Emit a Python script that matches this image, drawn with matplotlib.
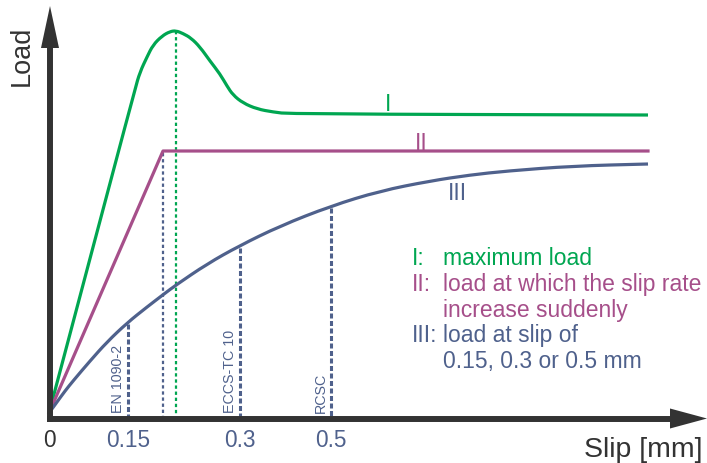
import numpy as np
import matplotlib
matplotlib.use("Agg")
import matplotlib.pyplot as plt
from matplotlib.path import Path
from matplotlib.patches import PathPatch

plt.rcParams["font.family"] = ["Liberation Sans", "DejaVu Sans"]
plt.rcParams["lines.scale_dashes"] = False

# schematic load-slip curves (arbitrary units, slip to the right, load upwards)
curve_I_slip = [0, 86, 91, 98, 104, 113, 121, 127, 134, 142, 151, 161, 171, 178, 184, 194, 208, 224, 241, 599]
curve_I_load = [0, 324, 341, 356, 368, 377, 381.5, 382.3, 379.5, 375, 366, 352, 339, 327, 318, 310, 304, 301, 299, 298]

curve_II_slip = [0, 114, 599]
curve_II_load = [0, 262, 262]

curve_III_slip = [0, 8, 16, 24, 41, 58, 78, 98, 115, 127, 158, 190, 231, 282, 331, 381, 421, 458, 524, 599]
curve_III_load = [0, 11, 22, 32, 52, 71, 90, 106, 119, 128, 149, 167, 187, 207, 222, 232, 238, 242, 247, 249]

# slip ticks and the code that uses each limit
tick_pos = [0, 79, 191, 282]
tick_labels = ["0", "0.15", "0.3", "0.5"]
limit_codes = ["EN 1090-2", "ECCS-TC 10", "RCSC"]

green = "#00a651"
purple = "#a64f8a"
blue = "#4f618c"
dark = "#333333"


def smooth_path(xs, ys):
    # quadratic bezier through the midpoints, the points act as control points
    p = np.column_stack([xs, ys]).astype(float)
    mids = (p[:-1] + p[1:]) / 2
    verts = [p[0], mids[0]]
    codes = [Path.MOVETO, Path.LINETO]
    for i in range(1, len(p) - 1):
        verts += [p[i], mids[i]]
        codes += [Path.CURVE3, Path.CURVE3]
    verts.append(p[-1])
    codes.append(Path.LINETO)
    return Path(verts, codes)


fig = plt.figure(figsize=(7.07, 4.64), dpi=100)
ax = fig.add_axes([0, 0, 1, 1])
ax.set_xlim(-49, 658)
ax.set_ylim(-50, 414)
ax.axis("off")

ax.add_patch(PathPatch(smooth_path(curve_I_slip, curve_I_load), fill=False,
                       edgecolor=green, lw=2.3, zorder=3))
ax.plot(curve_II_slip, curve_II_load, color=purple, lw=2.3, zorder=3)
ax.add_patch(PathPatch(smooth_path(curve_III_slip, curve_III_load), fill=False,
                       edgecolor=blue, lw=2.3, zorder=3))

# load at slip of 0.15 / 0.3 / 0.5 mm
for x, code in zip(tick_pos[1:], limit_codes):
    y = np.interp(x, curve_III_slip, curve_III_load)
    ax.plot([x, x], [y - 2, -3], color=blue, lw=2.2, dashes=(3.6, 1.8), zorder=2)
    ax.text(x - 10.5, 1, code, rotation=90, ha="center", va="bottom",
            fontsize=10.3, color=blue)

# slip where curve II turns flat
knee = curve_II_slip[1]
ax.plot([knee, knee], [curve_II_load[1] - 2, -3], color=blue, lw=1.6, dashes=(2.4, 2.0), zorder=2)

# slip at maximum load of curve I
i_max = int(np.argmax(curve_I_load))
ax.plot([curve_I_slip[i_max]] * 2, [curve_I_load[i_max], -3], color=green, lw=1.6,
        dashes=(2.4, 2.0), zorder=2)

# axes with arrow heads
ax.plot([1, 1], [-8.5, 366], color=dark, lw=4.3, solid_capstyle="butt", zorder=4)
ax.fill([-8, 10, 1], [365, 365, 407], color=dark, lw=0, zorder=4)
ax.plot([-2, 622], [-5.5, -5.5], color=dark, lw=4.3, solid_capstyle="butt", zorder=4)
ax.fill([621, 621, 658], [-15.5, 4.5, -5.5], color=dark, lw=0, zorder=4)

ax.text(-27, 358, "Load", rotation=90, ha="center", va="center", fontsize=19.5, color=dark)
ax.text(654, -43, "Slip [mm]", ha="right", va="baseline", fontsize=20.5, color=dark)

for x, lab in zip(tick_pos, tick_labels):
    ax.text(x, -33, lab, ha="center", va="baseline", fontsize=16.3,
            color=dark if lab == "0" else blue)

# curve labels
ax.text(339, 303, "I", ha="center", va="baseline", fontsize=16.5, color=green)
ax.text(372, 264, "II", ha="center", va="baseline", fontsize=16.5, color=purple)
ax.text(408, 214, "III", ha="center", va="baseline", fontsize=16.5, color=blue)

# explanation of the three definitions
notes = [
    ("I:", "maximum load", green),
    ("II:", "load at which the slip rate", purple),
    ("", "increase suddenly", purple),
    ("III:", "load at slip of", blue),
    ("", "0.15, 0.3 or 0.5 mm", blue),
]
for k, (num, txt, col) in enumerate(notes):
    y = 149 - 25.8 * k
    ax.text(363, y, num, ha="left", va="baseline", fontsize=16.5, color=col)
    ax.text(394, y, txt, ha="left", va="baseline", fontsize=16.5, color=col)

fig.savefig("out.png", dpi=100)
